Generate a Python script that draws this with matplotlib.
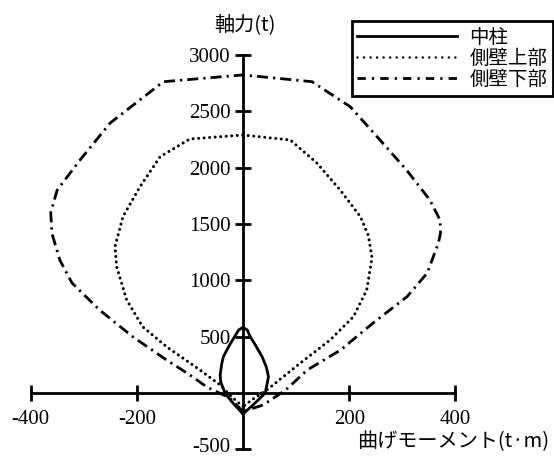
import matplotlib.pyplot as plt
from matplotlib.lines import Line2D
from matplotlib.transforms import ScaledTranslation

plt.rcParams['font.family'] = ['Noto Sans CJK JP', 'DejaVu Sans']
plt.rcParams['axes.unicode_minus'] = False

# 相互作用曲線 (曲げモーメント t·m, 軸力 t)
moment_col = [0, -19, -34, -42, -43, -40, -37, -26, -15, -8, 0,
              8, 13, 24, 36, 44, 48, 42, 19, 0]
axial_col = [-186, -89, 0, 100, 160, 260, 322, 420, 506, 560, 582,
             560, 506, 420, 322, 230, 145, 0, -106, -186]

moment_upper = [0, -20, -43, -81, -144, -189, -219, -238, -241, -226, -194,
                -156, -100, 0, 89, 139, 183, 221, 236, 243, 233, 208, 164,
                108, 45, 20, 0]
axial_upper = [-120, -40, 71, 204, 411, 588, 825, 1121, 1300, 1565, 1830,
               2097, 2254, 2289, 2245, 2041, 1801, 1565, 1400, 1200, 914,
               677, 470, 266, 27, -50, -120]

moment_lower = [0, -25, -68, -100, -144, -207, -270, -322, -345, -360, -362,
                -350, -307, -250, -150, 0, 130, 202, 258, 308, 352, 371, 372,
                368, 347, 309, 245, 184, 121, 80, 38, 0]
axial_lower = [-165, -44, 53, 160, 293, 497, 736, 976, 1180, 1420, 1600,
               1800, 2067, 2396, 2762, 2822, 2762, 2540, 2245, 1979, 1712,
               1535, 1420, 1331, 1065, 855, 621, 382, 204, 25, -106, -165]

labels = ['中柱', '側壁上部', '側壁下部']
xticks = [-400, -200, 200, 400]
yticks = [-500, 500, 1000, 1500, 2000, 2500, 3000]

dotted = (0, (0.01, 1.8))
dashdot = (0, (4.0, 1.8, 0.8, 1.8))

fig = plt.figure(figsize=(5.54, 4.57), dpi=100)
ax = fig.add_axes([0, 0, 1, 1])

ax.plot(moment_col, axial_col, color='black', lw=2.0, ls='-',
        solid_joinstyle='round')
ax.plot(moment_upper, axial_upper, color='black', lw=2.2, ls=dotted,
        dash_capstyle='round')
ax.plot(moment_lower, axial_lower, color='black', lw=2.0, ls=dashdot)

ax.set_xlim(-457.6, 585.7)
ax.set_ylim(-567.9, 3487)

# 軸は原点を通す
for s in ['top', 'right']:
    ax.spines[s].set_visible(False)
ax.spines['left'].set_position(('data', 0))
ax.spines['bottom'].set_position(('data', 0))
ax.spines['left'].set_bounds(-500, 3000)
ax.spines['bottom'].set_bounds(-400, 400)
for s in ['left', 'bottom']:
    ax.spines[s].set_linewidth(2.0)

ax.set_xticks(xticks)
ax.set_yticks(yticks)
ax.tick_params(direction='inout', length=12, width=2.0, colors='black')
ax.tick_params(axis='x', pad=6)
ax.tick_params(axis='y', pad=3)
for lab in ax.get_xticklabels() + ax.get_yticklabels():
    lab.set_fontfamily('Liberation Serif')
    lab.set_fontsize(15)

# 一番下のラベルを少し持ち上げる
low = ax.get_yticklabels()[0]
low.set_transform(low.get_transform()
                  + ScaledTranslation(0, 3 / 72, fig.dpi_scale_trans))

fig.text(245 / 554, 1 - 25 / 457, '軸力(t)', ha='center', va='center',
         fontsize=14.5)
fig.text(549 / 554, 1 - 442 / 457, '曲げモーメント(t·m)', ha='right',
         va='center', fontsize=14.5)

handles = [
    Line2D([], [], color='black', lw=2.0, ls='-'),
    Line2D([], [], color='black', lw=1.8, ls=(0, (0.01, 2.6)),
           dash_capstyle='round'),
    Line2D([], [], color='black', lw=2.0, ls=(0, (3.0, 2.2, 0.8, 2.2))),
]
leg = ax.legend(handles, labels, loc='upper right',
                bbox_to_anchor=(553 / 554, 1 - 21 / 457),
                bbox_transform=fig.transFigure, fontsize=14,
                handlelength=5.1, handletextpad=0.65, labelspacing=0.0,
                borderpad=0.3, borderaxespad=0, fancybox=False,
                framealpha=1, edgecolor='black')
leg.get_frame().set_linewidth(2.0)

fig.savefig('out.png', dpi=100)
